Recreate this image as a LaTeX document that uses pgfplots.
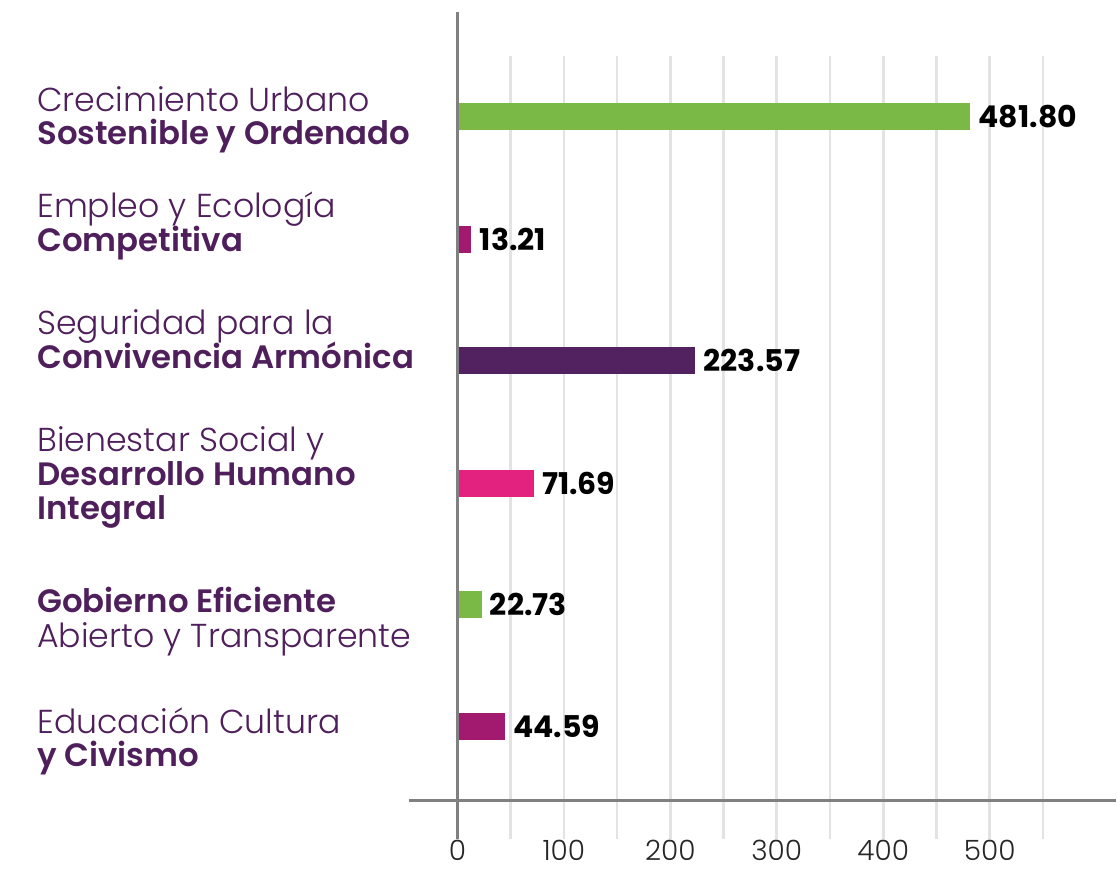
\documentclass[border=0pt]{standalone}
\usepackage{fontspec}
\setmainfont{Poppins Light}[BoldFont={Poppins SemiBold}]
\newfontfamily\valfont{Poppins Bold}
\usepackage{pgfplots}
\pgfplotsset{compat=1.18}
\definecolor{lblpurple}{HTML}{4F1F5C}
\definecolor{cgreen}{HTML}{7AB946}
\definecolor{cmag}{HTML}{A21A6F}
\definecolor{cpurple}{HTML}{52215F}
\definecolor{cpink}{HTML}{E3227F}
\definecolor{axgray}{HTML}{808080}
\definecolor{grd}{HTML}{E3E3E3}
\newcommand{\lab}[2]{\node[anchor=base west, inner sep=0pt, text=lblpurple, font=\fontsize{16.6pt}{20pt}\selectfont] at (37,#1) {#2};}
\newcommand{\labb}[2]{\node[anchor=base west, inner sep=0pt, text=lblpurple, font=\fontsize{16.2pt}{20pt}\selectfont\bfseries] at (37,#1) {#2};}
\begin{document}
\begin{tikzpicture}
\begin{scope}[x=0.5pt,y=-0.5pt]
\useasboundingbox (0,0) rectangle (1117,870);
\end{scope}
\begin{axis}[
  at={(205pt,-420pt)}, anchor=south west,
  width=353.5pt, height=392pt, scale only axis,
  xmin=-45, xmax=618.2,
  ymin=56, ymax=840, y dir=reverse,
  axis line style={draw=none},
  ytick=\empty,
  xtick={0,100,...,500},
  minor xtick={50,150,...,550},
  xmajorgrids, xminorgrids,
  major grid style={grd, line width=1.3pt},
  minor grid style={grd, line width=1.3pt},
  major tick length=0pt, minor tick length=0pt,
  xticklabel style={font=\fontsize{14pt}{16pt}\selectfont, text=black!85, inner sep=0pt, yshift=-0.5pt},
  /pgf/number format/assume math mode=true,
  xbar, bar width=13.5pt, bar shift=0pt,
  clip=false,
  point meta=explicit symbolic,
  nodes near coords,
  nodes near coords style={anchor=west, font=\valfont\fontsize{15pt}{18pt}\selectfont, text=black, inner sep=4pt},
]
\addplot[fill=cgreen, draw=none] coordinates {(481.80,117) [481.80]};
\addplot[fill=cmag, draw=none] coordinates {(13.21,240) [13.21]};
\addplot[fill=cpurple, draw=none] coordinates {(223.57,361) [223.57]};
\addplot[fill=cpink, draw=none] coordinates {(71.69,484) [71.69]};
\addplot[fill=cgreen, draw=none] coordinates {(22.73,605) [22.73]};
\addplot[fill=cmag, draw=none] coordinates {(44.59,727) [44.59]};
\draw[axgray, line width=1.5pt] (axis cs:0,12) -- (axis cs:0,840);
\draw[axgray, line width=1.5pt] (axis cs:-45,802) -- (axis cs:618.2,802);
\end{axis}
\begin{scope}[x=0.5pt,y=-0.5pt]
\lab{112}{Crecimiento Urbano}
\labb{145}{Sostenible y Ordenado}
\lab{218}{Empleo y Ecología}
\labb{252}{Competitiva}
\lab{335}{Seguridad para la}
\labb{369}{Convivencia Armónica}
\lab{452}{Bienestar Social y}
\labb{486}{Desarrollo Humano}
\labb{520}{Integral}
\labb{613}{Gobierno Eficiente}
\lab{648}{Abierto y Transparente}
\lab{734}{Educación Cultura}
\labb{768}{y Civismo}
\end{scope}
\end{tikzpicture}
\end{document}
